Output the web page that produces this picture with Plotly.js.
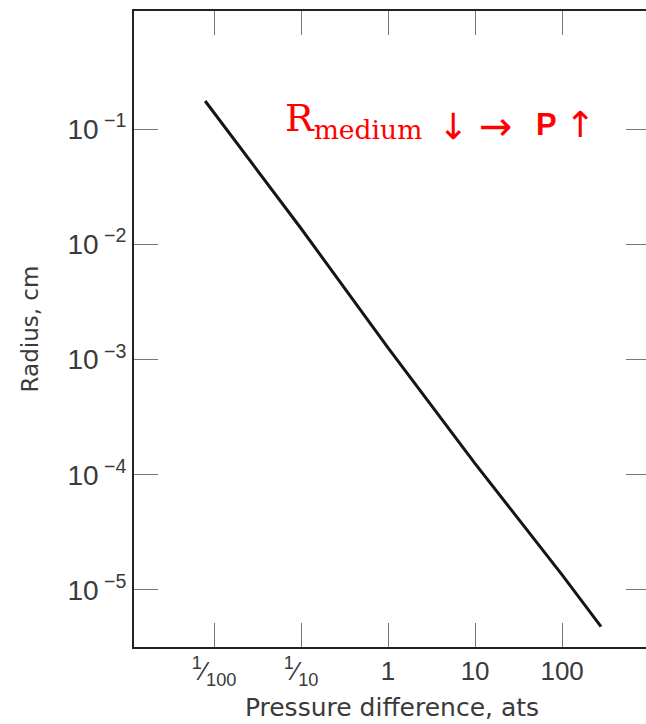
<!DOCTYPE html>
<html>
<head>
<meta charset="utf-8">
<script src="https://cdn.plot.ly/plotly-3.0.1.min.js"></script>
<style>
html,body{margin:0;padding:0;overflow:hidden;background:#fff;}
#chart{width:650px;height:724px;}
</style>
</head>
<body>
<div id="chart"></div>
<script>
// Data
const pressure = [0.0079, 0.1, 1, 10, 100, 280];
const radius = [0.175, 0.0137, 0.00126, 0.000125, 0.0000135, 0.0000048];

const xTickVals = [0.01, 0.1, 1, 10, 100];
const xTickText = ['<sup>1</sup>\u2044<sub>100</sub>', '<sup>1</sup>\u2044<sub>10</sub>', '1', '10', '100'];
const yTickVals = [1e-1, 1e-2, 1e-3, 1e-4, 1e-5];
const yTickText = ['10<sup> \u22121</sup>', '10<sup> \u22122</sup>', '10<sup> \u22123</sup>', '10<sup> \u22124</sup>', '10<sup> \u22125</sup>'];

const xTitle = 'Pressure difference, ats';
const yTitle = 'Radius, cm';
const noteLeft = 'R<sub>medium</sub>';
const noteGlyphs = ['\u2193', '\u2192', '<b>P</b>', '\u2191'];

const trace = {
  x: pressure, y: radius, type: 'scatter', mode: 'lines',
  line: {color: '#151515', width: 3}, hoverinfo: 'skip', showlegend: false
};

const tickFont = {family: 'Liberation Sans, Arial, sans-serif', size: 28, color: '#3a3a3a'};
const px = v => (v - 134) / 516;
const py = v => (647 - v) / 636;

const red = '#ff0000';
const annotations = [
  {text: noteLeft, xref: 'paper', yref: 'paper', x: px(283), y: py(121),
   xanchor: 'left', yanchor: 'middle', showarrow: false,
   font: {family: 'DejaVu Serif, serif', size: 38, color: red}},
  {text: noteGlyphs[0], xref: 'paper', yref: 'paper', x: px(453), y: py(126),
   xanchor: 'center', yanchor: 'middle', showarrow: false,
   font: {family: 'DejaVu Sans, sans-serif', size: 36, color: red}},
  {text: noteGlyphs[1], xref: 'paper', yref: 'paper', x: px(496), y: py(126),
   xanchor: 'center', yanchor: 'middle', showarrow: false,
   font: {family: 'DejaVu Sans, sans-serif', size: 40, color: red}},
  {text: noteGlyphs[2], xref: 'paper', yref: 'paper', x: px(546), y: py(125),
   xanchor: 'center', yanchor: 'middle', showarrow: false,
   font: {family: 'Liberation Sans, Arial, sans-serif', size: 31, color: red}},
  {text: noteGlyphs[3], xref: 'paper', yref: 'paper', x: px(580), y: py(125),
   xanchor: 'center', yanchor: 'middle', showarrow: false,
   font: {family: 'DejaVu Sans, sans-serif', size: 36, color: red}}
];

const layout = {
  width: 650, height: 724,
  margin: {l: 134, r: 0, t: 11, b: 77},
  paper_bgcolor: '#fff', plot_bgcolor: '#fff',
  showlegend: false,
  xaxis: {
    type: 'log', range: [-2.92, 3.01],
    tickvals: xTickVals, ticktext: xTickText,
    ticks: 'inside', ticklen: 24, tickwidth: 1, tickcolor: '#777',
    showline: true, linecolor: '#222', linewidth: 2, mirror: 'ticks',
    showgrid: false, zeroline: false,
    tickfont: {family: 'Liberation Sans, Arial, sans-serif', size: 26, color: '#3a3a3a'},
    title: {text: xTitle, font: {family: 'DejaVu Sans, sans-serif', size: 25, color: '#3a3a3a'}, standoff: 10}
  },
  yaxis: {
    type: 'log', range: [-5.495, 0.024],
    tickvals: yTickVals, ticktext: yTickText,
    ticks: 'inside', ticklen: 24, tickwidth: 1, tickcolor: '#777',
    showline: true, linecolor: '#222', linewidth: 2, mirror: 'ticks',
    showgrid: false, zeroline: false,
    tickfont: tickFont,
    title: {text: yTitle, font: {family: 'DejaVu Sans, sans-serif', size: 23, color: '#3a3a3a'}, standoff: 22}
  },
  annotations: annotations
};

Plotly.newPlot('chart', [trace], layout, {staticPlot: true, displayModeBar: false});
</script>
</body>
</html>
